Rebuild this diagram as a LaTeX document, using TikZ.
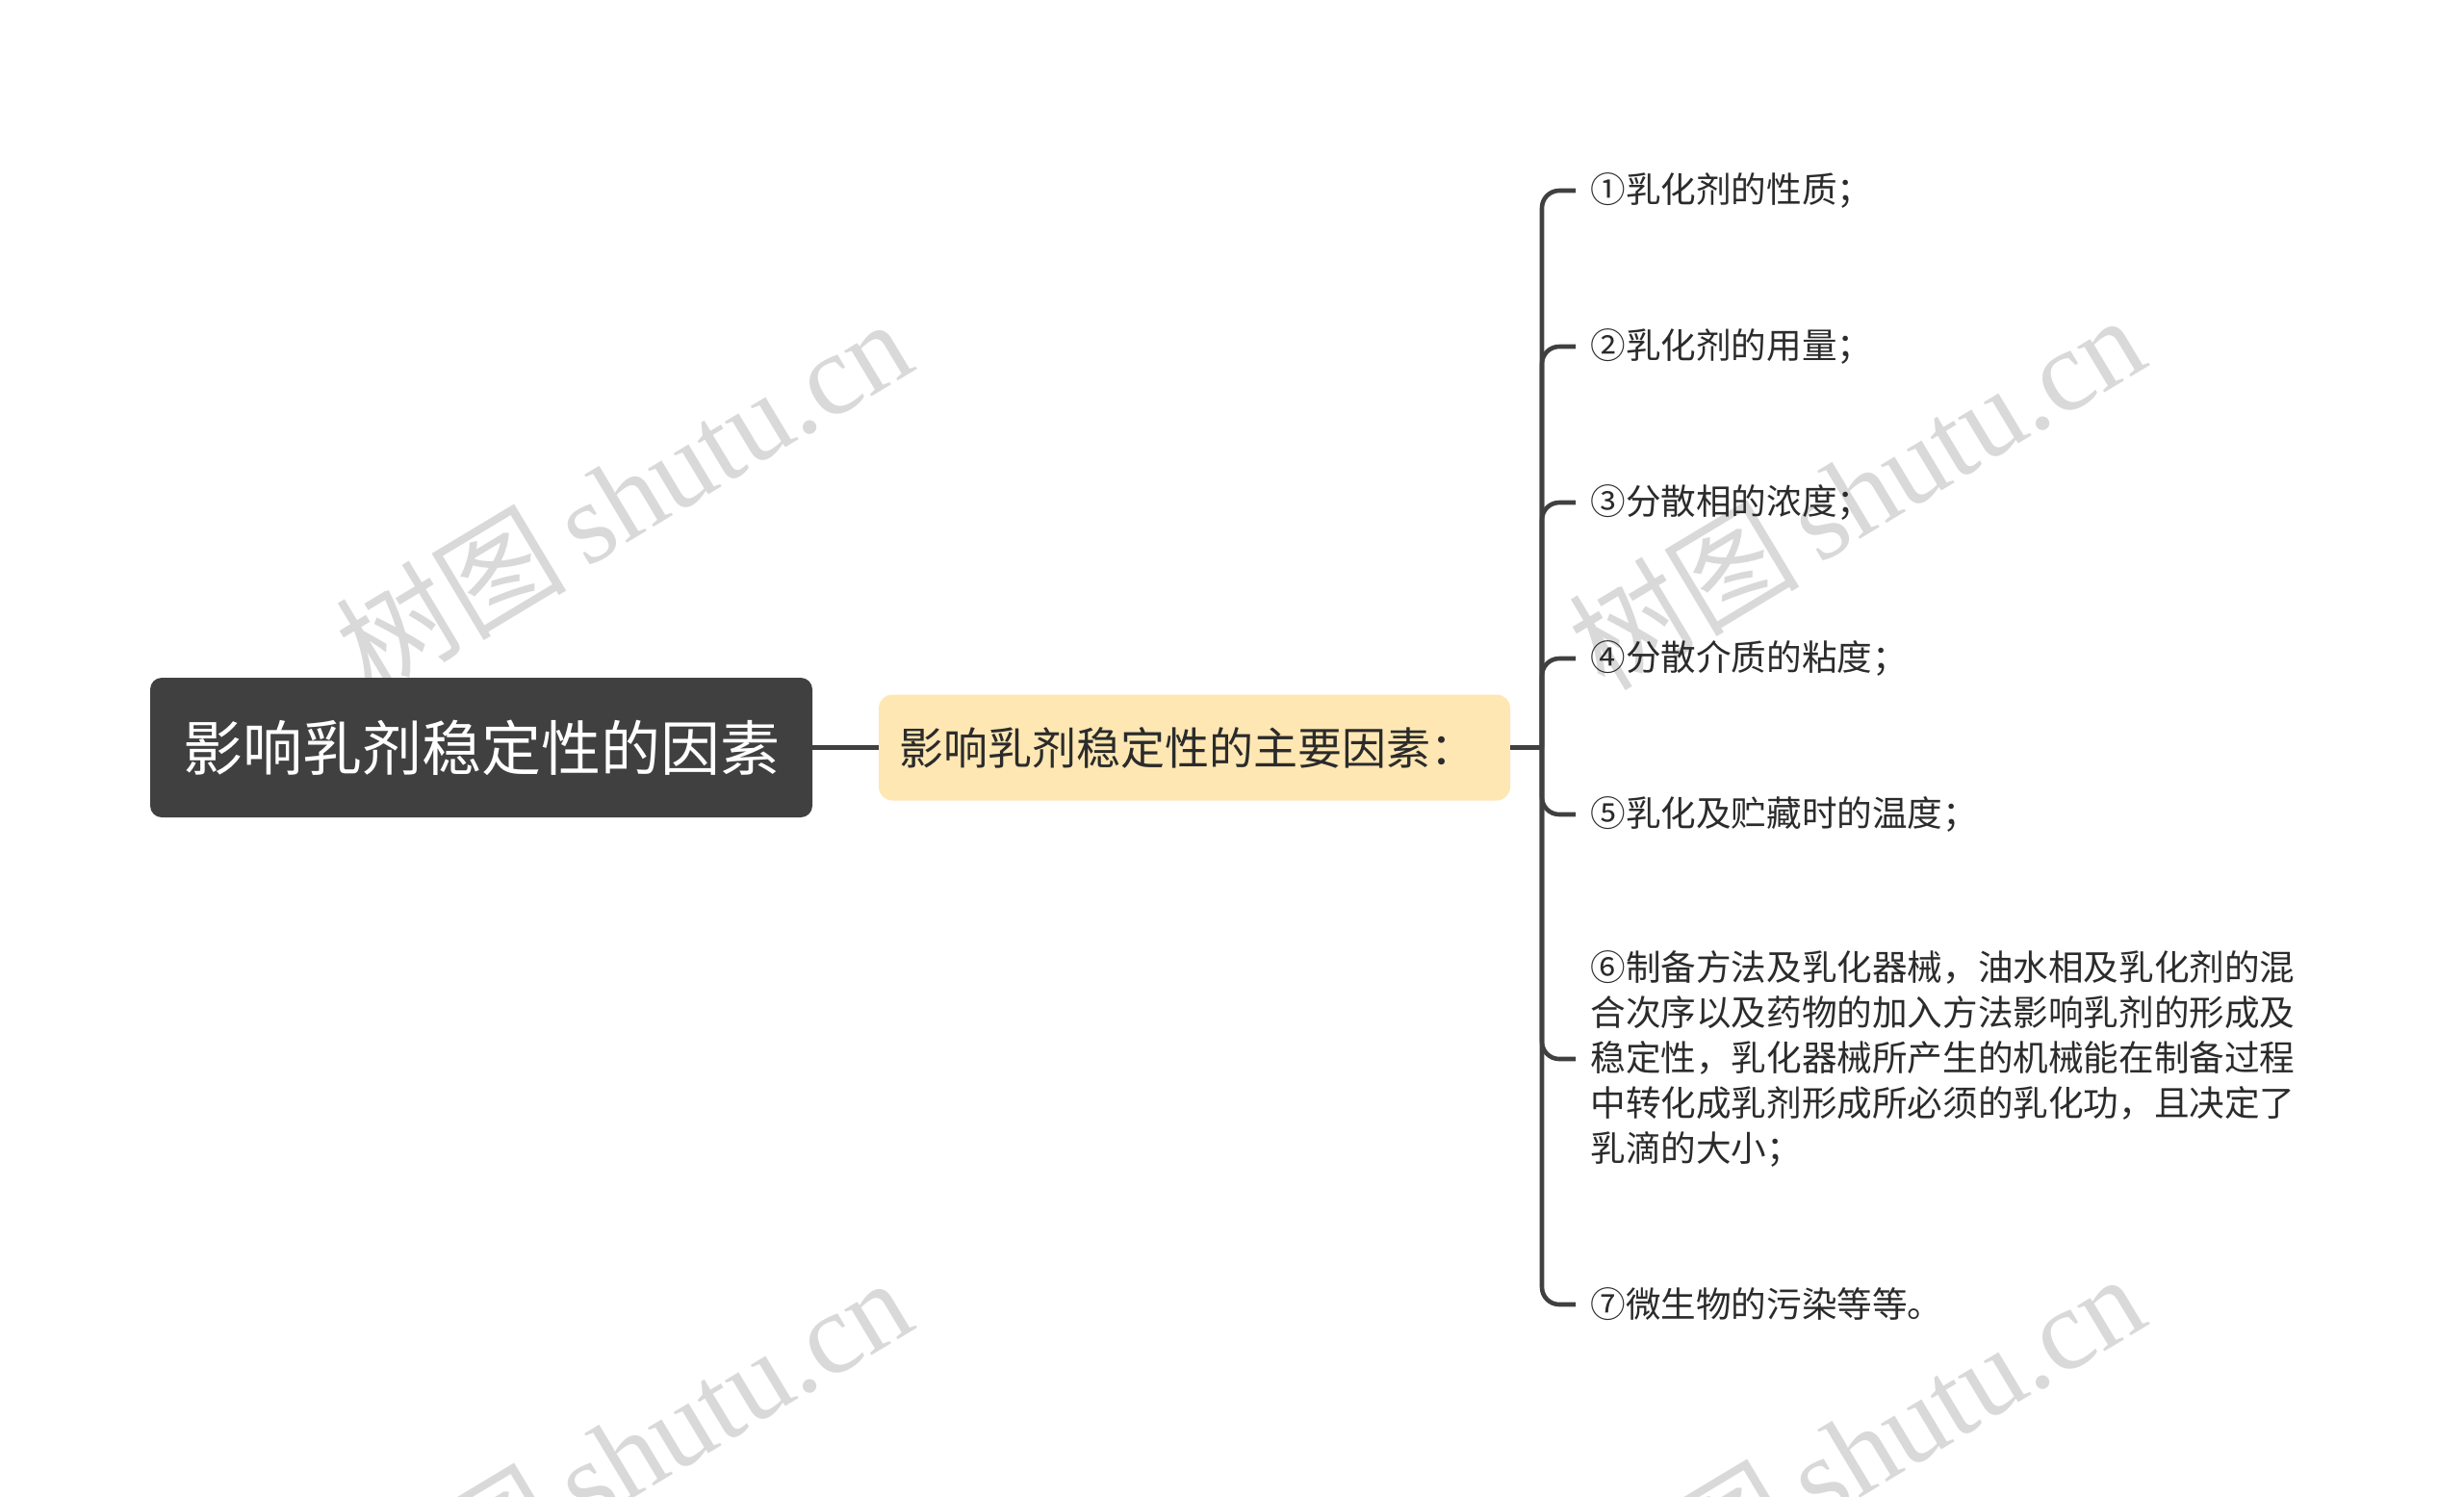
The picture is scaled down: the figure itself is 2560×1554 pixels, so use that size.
\documentclass[tikz,border=0pt]{standalone}
\usepackage{fontspec}
\setmainfont{Noto Sans CJK SC}
\newfontfamily\wmcjk{Noto Sans CJK SC}
\newfontfamily\wmlatin{Liberation Serif}
\definecolor{rootfill}{HTML}{404040}
\definecolor{midfill}{HTML}{FEE7B3}
\definecolor{linecol}{HTML}{404040}
\definecolor{txtcol}{HTML}{2B2B2B}
\definecolor{wmcol}{HTML}{D9D9D9}
\tikzset{
  rootbox/.style={draw=none, fill=rootfill, rounded corners=6pt, minimum width=344pt, minimum height=72.5pt, inner sep=0pt, text=white, font=\fontsize{31}{36}\selectfont},
  midbox/.style={draw=none, fill=midfill, rounded corners=7pt, minimum height=55pt, text width=307pt, align=left, inner xsep=10.5pt, inner ysep=0pt, text=txtcol, font=\fontsize{23}{28}\selectfont},
  leafbox/.style={anchor=west, inner sep=0pt, text=txtcol, font=\fontsize{18.3}{23.4}\selectfont},
  conn/.style={draw=linecol, line width=2.3pt},
  branch/.style={conn, rounded corners=9pt},
  wmark/.style={text=wmcol, rotate=31, inner sep=0pt}
}
\begin{document}
\begin{tikzpicture}[x=0.5pt,y=-0.5pt]
\useasboundingbox (0,0) rectangle (2560,1554);
\begin{scope}
\clip (0,0) rectangle (2560,1554);
\node[wmark] (wm1) at (647,514) {\fontsize{60}{70}\selectfont\wmcjk 树图\,\wmlatin shutu.cn};
\node[wmark] (wm2) at (1928,510) {\fontsize{60}{70}\selectfont\wmcjk 树图\,\wmlatin shutu.cn};
\node[wmark] (wm3) at (647,1510) {\fontsize{60}{70}\selectfont\wmcjk 树图\,\wmlatin shutu.cn};
\node[wmark] (wm4) at (1928,1506) {\fontsize{60}{70}\selectfont\wmcjk 树图\,\wmlatin shutu.cn};
\end{scope}

\node[rootbox] (root) at (500,776.5) {影响乳剂稳定性的因素};
\node[midbox] (mid) at (1241,776.5) {影响乳剂稳定性的主要因素：};
\coordinate (bx) at (1602,776.5);

\node[leafbox] (l1) at (1652,198) {①乳化剂的性质；};
\node[leafbox] (l2) at (1652,360) {②乳化剂的用量；};
\node[leafbox] (l3) at (1652,522) {③分散相的浓度；};
\node[leafbox] (l4) at (1652,684) {④分散介质的粘度；};
\node[leafbox] (l5) at (1652,846) {⑤乳化及贮藏时的温度；};
\node[leafbox, text width=372pt, align=left] (l6) at (1652,1100) {⑥制备方法及乳化器械，油水相及乳化剂的混\\合次序以及药物的加入方法影响乳剂的形成及\\稳定性，乳化器械所产生的机械能在制备过程\\中转化成乳剂形成所必须的乳化功，且决定了\\乳滴的大小；};
\node[leafbox] (l7) at (1652,1355) {⑦微生物的污染等等。};

\draw[conn] (root.east) -- (mid.west);
\draw[conn] (mid.east) -- (bx);
\foreach \n in {l1,l2,l3,l4,l5,l6,l7}{
  \draw[branch] (bx) |- ([xshift=-7.5pt]\n.west);
}
\end{tikzpicture}
\end{document}
